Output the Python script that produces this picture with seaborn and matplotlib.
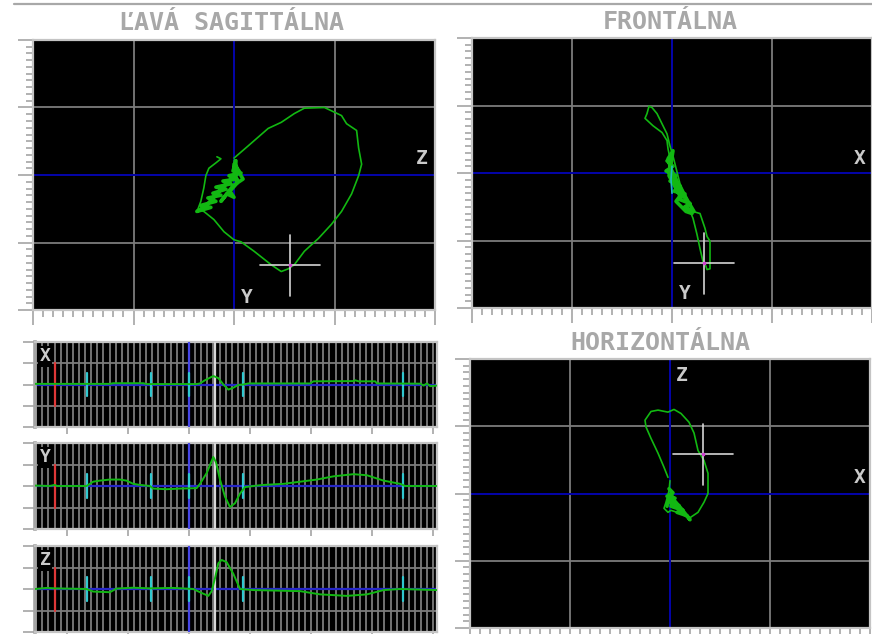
import matplotlib
matplotlib.use("Agg")
import matplotlib.pyplot as plt
import seaborn as sns
from matplotlib.ticker import MultipleLocator

# ---------------------------------------------------------------- data
# Vector loops, in grid units (one major grid cell = 1)
SAG_LOOP_U = [0.00, 0.14, 0.34, 0.47, 0.60, 0.70, 0.90, 1.00, 1.07, 1.12, 1.22, 1.24, 1.27, 1.24,
              1.17, 1.07, 0.97, 0.84, 0.70, 0.60, 0.54, 0.47, 0.37, 0.20, 0.07, 0.00, -0.10,
              -0.20, -0.30, -0.36, -0.33, -0.30, -0.28, -0.25, -0.18, -0.13, -0.17]
SAG_LOOP_V = [0.25, 0.43, 0.69, 0.78, 0.91, 0.99, 1.00, 0.93, 0.88, 0.76, 0.66, 0.40, 0.16, -0.01,
              -0.28, -0.54, -0.73, -0.94, -1.13, -1.33, -1.39, -1.43, -1.33, -1.13, -0.99, -0.96, -0.84,
              -0.66, -0.54, -0.51, -0.39, -0.19, -0.01, 0.10, 0.18, 0.24, 0.27]
SAG_KNOT_U = [0.02, -0.01, 0.07, -0.05, 0.03, -0.11, -0.03, -0.18, -0.08, -0.21, -0.13, -0.26,
              -0.18, -0.33, -0.23, -0.37, -0.28, -0.20, -0.11, -0.03, 0.05, 0.00, 0.03, -0.04,
              0.00, -0.07, -0.13, -0.01, 0.09, 0.03, 0.01]
SAG_KNOT_V = [0.21, 0.06, 0.03, -0.01, -0.06, -0.09, -0.13, -0.18, -0.21, -0.27, -0.30, -0.34,
              -0.39, -0.45, -0.48, -0.54, -0.46, -0.33, -0.18, -0.06, 0.06, 0.16, -0.12, -0.24,
              -0.33, -0.28, -0.39, -0.16, -0.06, 0.09, 0.21]
SAG_MARK = (0.56, -1.34)

FRO_LOOP_U = [0.00, -0.02, -0.04, -0.05, -0.10, -0.19, -0.27, -0.25, -0.23, -0.20, -0.15, -0.09,
              -0.05, -0.02, 0.01, 0.08, 0.15, 0.21, 0.28, 0.33, 0.35, 0.38, 0.38, 0.35, 0.33, 0.31,
              0.28, 0.25, 0.21, 0.15, 0.08, 0.02, 0.00]
FRO_LOOP_V = [0.07, 0.22, 0.36, 0.48, 0.60, 0.70, 0.81, 0.88, 0.99, 0.97, 0.88, 0.70, 0.58, 0.40,
              0.25, -0.16, -0.37, -0.57, -0.60, -0.82, -0.94, -1.01, -1.42, -1.43, -1.34, -1.31,
              -1.12, -0.91, -0.67, -0.46, -0.27, -0.09, 0.00]
FRO_KNOT_U = [-0.05, 0.01, -0.06, 0.04, -0.02, 0.08, 0.02, 0.13, 0.07, 0.18, 0.12, 0.22, 0.16,
              0.10, 0.05, -0.01, -0.04, 0.01, -0.03, 0.08, 0.04, 0.14, 0.20]
FRO_KNOT_V = [0.18, 0.10, 0.03, -0.04, -0.12, -0.19, -0.27, -0.31, -0.39, -0.45, -0.51, -0.57,
              -0.42, -0.27, -0.12, 0.06, 0.21, 0.33, -0.04, -0.34, -0.42, -0.57, -0.60]
FRO_TAIL_U = [0.00, -0.01, 0.00]
FRO_TAIL_V = [0.10, -0.10, -0.30]
FRO_MARK = (0.32, -1.34)

HOR_LOOP_U = [-0.02, -0.06, -0.12, -0.19, -0.24, -0.25, -0.19, -0.12, -0.02, 0.04, 0.11, 0.19,
              0.24, 0.28, 0.34, 0.38, 0.38, 0.34, 0.28, 0.19, 0.11, 0.01, -0.02, -0.06, -0.04,
              -0.01, 0.00]
HOR_LOOP_V = [0.24, 0.39, 0.60, 0.82, 0.99, 1.09, 1.22, 1.24, 1.21, 1.25, 1.19, 1.06, 0.90, 0.64,
              0.49, 0.30, 0.00, -0.13, -0.28, -0.37, -0.30, -0.25, -0.28, -0.22, -0.13, 0.04, 0.19]
HOR_KNOT_U = [-0.01, 0.03, -0.03, 0.05, -0.01, 0.09, 0.01, 0.13, 0.07, 0.17, 0.20, 0.11, 0.04,
              0.01, -0.02, -0.03]
HOR_KNOT_V = [0.07, 0.01, -0.04, -0.07, -0.13, -0.18, -0.19, -0.25, -0.28, -0.33, -0.39, -0.22,
              -0.10, -0.01, -0.10, -0.19]
HOR_MARK = (0.33, 0.58)

# Scalar leads, time in ms (0 = blue cursor), amplitude in grid units
X_T = [-252, -129.5, -124, -74.9, -69.4, 12.6, 18, 26.2, 39.9, 48.1, 56.3, 64.5, 72.7, 80.9, 89,
       97.2, 198.3, 203.8, 269.3, 272.1, 277.5, 304.9, 307.6, 378.6, 384.1, 389.5, 395, 405.9]
X_V = [0.03, 0.03, 0.06, 0.06, 0.02, 0.02, 0.05, 0.2, 0.4, 0.3, 0.0, -0.24, -0.15, -0.02, 0.0,
       0.05, 0.05, 0.15, 0.16, 0.2, 0.15, 0.15, 0.05, 0.04, -0.05, 0.05, -0.08, -0.05]
Y_T = [-252, -227.8, -219.6, -216, -167.7, -156.8, -145.9, -129.5, -113.1, -102.2, -91.2, -80.3,
       -63.9, -58.5, -36.6, -14.8, 12.6, 18, 29, 39.9, 44.3, 50.8, 59, 67.2, 75.4, 83.6, 91.8,
       105.4, 121.8, 154.6, 181.9, 209.3, 236.6, 269.3, 291.2, 318.5, 345.8, 354, 405.9]
Y_V = [0.02, 0.0, 0.05, 0.0, 0.0, 0.2, 0.25, 0.3, 0.3, 0.25, 0.1, 0.05, 0.0, -0.12, -0.15, -0.12,
       -0.1, 0.1, 0.6, 1.35, 1.1, 0.3, -0.5, -0.98, -0.8, -0.35, -0.05, 0.0, 0.05, 0.1, 0.2, 0.3,
       0.45, 0.55, 0.5, 0.25, 0.1, 0.0, 0.0]
Z_T = [-252, -233.3, -219.6, -167.7, -156.8, -129.5, -118.6, -91.2, -63.9, -25.7, 7.1, 18, 31.7,
       37.2, 42.6, 48.1, 53.5, 61.7, 72.7, 83.6, 105.4, 181.9, 214.7, 258.4, 291.2, 318.5, 345.8,
       405.9]
Z_V = [0.0, 0.05, 0.03, 0.0, -0.12, -0.15, 0.02, 0.06, 0.03, 0.05, 0.0, -0.15, -0.32, -0.1, 0.5,
       1.2, 1.35, 1.25, 0.7, 0.0, -0.05, -0.1, -0.25, -0.32, -0.25, -0.05, 0.0, -0.05]

T_RANGE = (-252, 406)
RED_MARK_T = -220
CYAN_MARKS_T = [-167, -62, 0, 89, 351]
CURSOR_T = 43

TITLES = ["ĽAVÁ SAGITTÁLNA", "FRONTÁLNA", "HORIZONTÁLNA"]

# ---------------------------------------------------------------- style
GREEN = "#12b812"
GRID = "#7c7c7c"
AXIS_BLUE = "#0000a8"
FRAME = "#c4c4c4"
TICK = "#a4a4a4"
TITLE_C = "#a8a8a8"
LABEL_C = "#cacaca"

sns.set_theme(style="white")
plt.rcParams["font.family"] = ["DejaVu Sans Mono", "DejaVu Sans"]

W, H = 872, 634
fig = plt.figure(figsize=(W / 100, H / 100), dpi=100)
fig.patch.set_facecolor("white")


def px_axes(x0, y0, x1, y1):
    return fig.add_axes([x0 / W, 1 - y1 / H, (x1 - x0) / W, (y1 - y0) / H])


def style_frame(ax):
    ax.set_facecolor("black")
    for s in ax.spines.values():
        s.set_visible(True)
        s.set_color(FRAME)
        s.set_linewidth(1.6)
    ax.tick_params(which="both", direction="out", color=TICK, width=1.2,
                   labelbottom=False, labelleft=False, bottom=True, left=True,
                   top=False, right=False)
    ax.set_xlabel("")
    ax.set_ylabel("")


def loop_panel(rect, lu, lv, ku, kv, mark, labels, extra=None):
    ax = px_axes(*rect)
    style_frame(ax)
    ax.set_xlim(-2, 2)
    ax.set_ylim(-2, 2)
    for axis in (ax.xaxis, ax.yaxis):
        axis.set_major_locator(MultipleLocator(1))
        axis.set_minor_locator(MultipleLocator(0.1))
    ax.tick_params(which="major", length=11)
    ax.tick_params(which="minor", length=5)
    ax.grid(which="major", color=GRID, lw=1.3)
    ax.axhline(0, color=AXIS_BLUE, lw=1.4, zorder=2)
    ax.axvline(0, color=AXIS_BLUE, lw=1.4, zorder=2)
    sns.lineplot(x=ku, y=kv, sort=False, estimator=None, color=GREEN, lw=2.6, ax=ax, zorder=3)
    sns.lineplot(x=lu, y=lv, sort=False, estimator=None, color=GREEN, lw=1.2, ax=ax, zorder=3)
    if extra is not None:
        sns.lineplot(x=extra[0], y=extra[1], sort=False, estimator=None, color="#20b8c0",
                     lw=1.2, ax=ax, zorder=3)
    cx, cy = mark
    ax.plot([cx - 0.3, cx + 0.3], [cy, cy], color="#d4d4d4", lw=1.2, zorder=4)
    ax.plot([cx, cx], [cy - 0.45, cy + 0.45], color="#d4d4d4", lw=1.2, zorder=4)
    ax.plot([cx], [cy], "s", color="#d040d0", ms=2, zorder=5)
    for txt, x, y in labels:
        ax.text(x, y, txt, color=LABEL_C, fontsize=14, fontweight="bold",
                ha="center", va="center", zorder=6)
    ax.set_xlabel("")
    ax.set_ylabel("")
    return ax


loop_panel((33, 40, 435, 310), SAG_LOOP_U, SAG_LOOP_V, SAG_KNOT_U, SAG_KNOT_V, SAG_MARK,
           [("Z", 1.87, 0.24), ("Y", 0.13, -1.81)])
loop_panel((472, 38, 872, 308), FRO_LOOP_U, FRO_LOOP_V, FRO_KNOT_U, FRO_KNOT_V, FRO_MARK,
           [("X", 1.88, 0.22), ("Y", 0.13, -1.79)], extra=(FRO_TAIL_U, FRO_TAIL_V))
loop_panel((470, 359, 870, 628), HOR_LOOP_U, HOR_LOOP_V, HOR_KNOT_U, HOR_KNOT_V, HOR_MARK,
           [("Z", 0.12, 1.76), ("X", 1.90, 0.24)])


def strip(rect, t, v, label):
    ax = px_axes(*rect)
    style_frame(ax)
    ax.spines["left"].set_color(TICK)
    ax.spines["left"].set_linewidth(2.6)
    ax.set_xlim(*T_RANGE)
    ax.set_ylim(-2, 2)
    ax.xaxis.set_major_locator(MultipleLocator(100))
    ax.xaxis.set_minor_locator(MultipleLocator(10))
    ax.yaxis.set_major_locator(MultipleLocator(1))
    ax.tick_params(axis="x", which="major", length=5)
    ax.tick_params(axis="x", which="minor", length=0)
    ax.tick_params(axis="y", which="major", length=9)
    ax.grid(which="both", axis="x", color=GRID, lw=1.3)
    ax.grid(which="major", axis="y", color=GRID, lw=1.3)
    ax.axhline(0, color="#2626c8", lw=1.6, zorder=2)
    ax.axvline(0, color="#4646e6", lw=1.6, zorder=3)
    ax.axvline(CURSOR_T, color="#d8d8d8", lw=1.6, zorder=3)
    ax.plot([RED_MARK_T, RED_MARK_T], [-1, 1], color="#e03838", lw=1.6, zorder=4)
    for tc in CYAN_MARKS_T:
        ax.plot([tc, tc], [-0.55, 0.55], color="#30c8d0", lw=1.6, zorder=4)
    sns.lineplot(x=t, y=v, sort=False, estimator=None, color=GREEN, lw=1.4, ax=ax, zorder=5)
    ax.text(0.012, 0.94, label, transform=ax.transAxes, color=LABEL_C, fontsize=13,
            fontweight="bold", ha="left", va="top", zorder=6,
            bbox=dict(boxstyle="square,pad=0.08", fc="black", ec="none"))
    ax.set_xlabel("")
    ax.set_ylabel("")
    return ax


strip((35, 342, 437, 427), X_T, X_V, "X")
strip((35, 443, 437, 529), Y_T, Y_V, "Y")
strip((35, 546, 437, 632), Z_T, Z_V, "Z")

# Titles and the top rule
fig.add_artist(plt.Line2D([14 / W, 1], [1 - 4 / H, 1 - 4 / H], color="#a8a8a8", lw=1.6))
for txt, x, y in zip(TITLES, [231, 670, 660], [23, 22, 343]):
    fig.text(x / W, 1 - y / H, txt, color=TITLE_C, fontsize=18, fontweight="bold",
             ha="center", va="center")

fig.savefig("out.png", dpi=100, facecolor="white")
